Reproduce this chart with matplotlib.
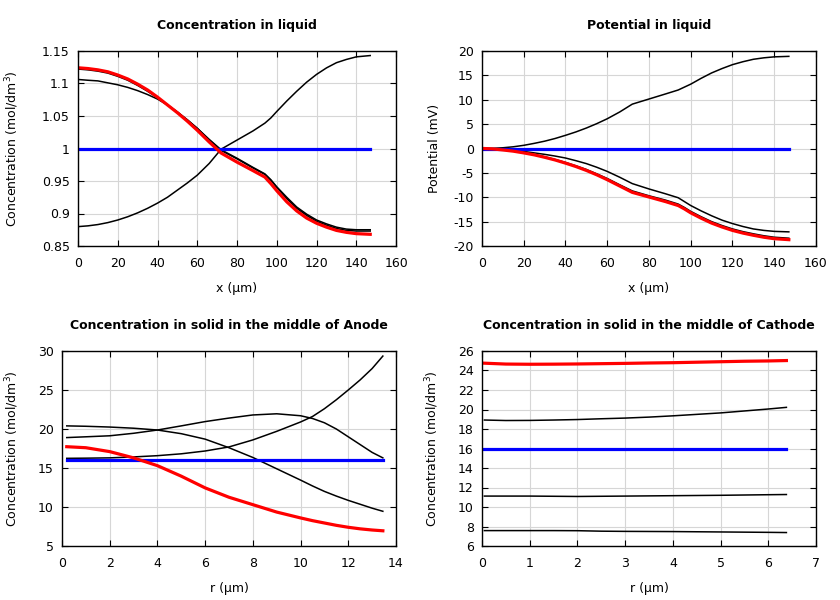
import numpy as np
import matplotlib.pyplot as plt
from matplotlib.ticker import MultipleLocator, FormatStrFormatter

plt.rcParams['font.family'] = ['DejaVu Sans']
plt.rcParams['font.size'] = 9
plt.rcParams['axes.unicode_minus'] = False

# ---- liquid phase, x in um
x_liq = [0.8, 5, 10, 15, 20, 25, 30, 35, 40, 45, 50, 55, 60, 66, 72, 80, 88, 94, 97, 100,
         105, 110, 115, 120, 125, 130, 135, 140, 147]
cl_t0 = [1.0, 1.0, 1.0, 1.0, 1.0, 1.0, 1.0, 1.0, 1.0, 1.0, 1.0, 1.0, 1.0, 1.0, 1.0, 1.0,
         1.0, 1.0, 1.0, 1.0, 1.0, 1.0, 1.0, 1.0, 1.0, 1.0, 1.0, 1.0, 1.0]
cl_t1 = [0.880, 0.881, 0.883, 0.886, 0.890, 0.895, 0.901, 0.908, 0.916, 0.925, 0.936, 0.947,
         0.959, 0.977, 0.999, 1.013, 1.027, 1.039, 1.047, 1.057, 1.073, 1.088, 1.102, 1.114,
         1.124, 1.132, 1.137, 1.141, 1.143]
cl_t2 = [1.122, 1.121, 1.119, 1.116, 1.111, 1.105, 1.097, 1.088, 1.078, 1.067, 1.056, 1.044,
         1.031, 1.014, 0.998, 0.985, 0.971, 0.961, 0.952, 0.941, 0.925, 0.910, 0.899, 0.890,
         0.884, 0.879, 0.876, 0.875, 0.875]
cl_t3 = [1.106, 1.105, 1.104, 1.101, 1.098, 1.094, 1.089, 1.083, 1.076, 1.067, 1.056, 1.044,
         1.031, 1.013, 0.997, 0.984, 0.970, 0.960, 0.951, 0.940, 0.923, 0.908, 0.897, 0.888,
         0.882, 0.877, 0.874, 0.873, 0.873]
cl_end = [1.124, 1.123, 1.121, 1.118, 1.113, 1.107, 1.099, 1.090, 1.079, 1.067, 1.055, 1.042,
          1.028, 1.010, 0.993, 0.979, 0.966, 0.956, 0.946, 0.935, 0.918, 0.904, 0.893, 0.885,
          0.879, 0.874, 0.871, 0.869, 0.868]

phi_t0 = [0, 0, 0, 0, 0, 0, 0, 0, 0, 0, 0, 0, 0, 0, 0, 0, 0, 0, 0, 0, 0, 0, 0, 0, 0, 0, 0, 0, 0]
phi_t1 = [0.0, 0.03, 0.15, 0.35, 0.65, 1.05, 1.5, 2.05, 2.7, 3.4, 4.2, 5.1, 6.1, 7.5, 9.1,
          10.15, 11.2, 12.0, 12.6, 13.2, 14.4, 15.5, 16.4, 17.2, 17.8, 18.3, 18.6, 18.8, 18.9]
phi_t2 = [0.0, -0.07, -0.28, -0.52, -0.85, -1.25, -1.7, -2.25, -2.85, -3.55, -4.3, -5.2, -6.15,
          -7.45, -8.7, -9.7, -10.6, -11.4, -12.1, -12.9, -14.0, -15.0, -15.8, -16.5, -17.05,
          -17.5, -17.9, -18.2, -18.4]
phi_t3 = [0.0, -0.04, -0.15, -0.35, -0.6, -0.9, -1.2, -1.55, -1.95, -2.5, -3.1, -3.85, -4.7,
          -5.9, -7.2, -8.3, -9.3, -10.1, -10.9, -11.7, -12.8, -13.8, -14.7, -15.4, -16.0, -16.5,
          -16.8, -17.0, -17.1]
phi_end = [0.0, -0.08, -0.3, -0.55, -0.9, -1.3, -1.8, -2.35, -3.0, -3.7, -4.5, -5.4, -6.4,
           -7.7, -9.0, -9.95, -10.9, -11.7, -12.4, -13.2, -14.3, -15.3, -16.1, -16.8, -17.35,
           -17.8, -18.2, -18.5, -18.7]

# ---- solid, middle of anode, r in um
r_an = [0.2, 1, 2, 3, 4, 5, 6, 7, 8, 9, 10, 10.5, 11, 11.5, 12, 12.5, 13, 13.45]
ca_t0 = [16.0, 16.0, 16.0, 16.0, 16.0, 16.0, 16.0, 16.0, 16.0, 16.0, 16.0, 16.0, 16.0, 16.0,
         16.0, 16.0, 16.0, 16.0]
ca_t1 = [16.24, 16.26, 16.3, 16.42, 16.58, 16.82, 17.18, 17.7, 18.6, 19.7, 20.9, 21.6, 22.6,
         23.75, 25.0, 26.3, 27.75, 29.35]
ca_t2 = [18.9, 19.0, 19.13, 19.45, 19.87, 20.4, 20.95, 21.4, 21.8, 21.95, 21.7, 21.35, 20.8,
         20.0, 19.0, 18.0, 17.0, 16.3]
ca_t3 = [20.4, 20.35, 20.25, 20.1, 19.87, 19.4, 18.7, 17.6, 16.35, 14.9, 13.45, 12.7, 12.0,
         11.4, 10.85, 10.35, 9.85, 9.45]
ca_end = [17.73, 17.6, 17.1, 16.3, 15.3, 13.95, 12.45, 11.25, 10.3, 9.35, 8.6, 8.25, 7.95, 7.65,
          7.4, 7.2, 7.05, 6.95]

# ---- solid, middle of cathode, r in um
r_ca = [0.05, 0.5, 1, 1.5, 2, 2.5, 3, 3.5, 4, 4.5, 5, 5.5, 6, 6.38]
cc_t0 = [15.95, 15.95, 15.95, 15.95, 15.95, 15.95, 15.95, 15.95, 15.95, 15.95, 15.95, 15.95,
         15.95, 15.95]
cc_t1 = [18.92, 18.87, 18.88, 18.92, 18.97, 19.05, 19.12, 19.22, 19.35, 19.5, 19.65, 19.85, 20.05,
         20.22]
cc_t2 = [11.12, 11.12, 11.12, 11.1, 11.08, 11.1, 11.12, 11.14, 11.16, 11.18, 11.2, 11.23, 11.26, 11.28]
cc_t3 = [7.58, 7.58, 7.58, 7.58, 7.57, 7.52, 7.5, 7.49, 7.48, 7.46, 7.44, 7.42, 7.4, 7.38]
cc_end = [24.75, 24.66, 24.64, 24.65, 24.67, 24.7, 24.73, 24.77, 24.8, 24.85, 24.9, 24.95, 24.98,
          25.02]

conc_label = 'Concentration (mol/dm$^3$)'


def draw(ax, x, mids, first, last, title, xlab, ylab, xlim, xstep, ylim, ystep):
    for y in mids:
        ax.plot(x, y, color='black', lw=1.1)
    ax.plot(x, first, color='#0000ff', lw=2.3)
    ax.plot(x, last, color='#ff0000', lw=2.3)
    ax.set_xlim(xlim)
    ax.set_ylim(ylim)
    ax.xaxis.set_major_locator(MultipleLocator(xstep))
    ax.yaxis.set_major_locator(MultipleLocator(ystep))
    ax.yaxis.set_major_formatter(FormatStrFormatter('%g'))
    ax.grid(True, color='#d6d6d6', lw=0.8)
    ax.set_axisbelow(True)
    ax.tick_params(direction='in', top=True, right=True, length=4, width=0.8)
    ax.tick_params(axis='x', pad=8)
    ax.tick_params(axis='y', pad=6)
    for s in ax.spines.values():
        s.set_linewidth(1.0)
    ax.set_title(title, fontweight='bold', fontsize=9, pad=16)
    ax.set_xlabel(xlab)
    ax.set_ylabel(ylab)
    ax.xaxis.set_label_coords(0.5, -0.185)


fig = plt.figure(figsize=(8.4, 6), dpi=100)
ax1 = fig.add_axes([0.0929, 0.59, 0.3786, 0.325])
ax2 = fig.add_axes([0.5738, 0.59, 0.3976, 0.325])
ax3 = fig.add_axes([0.0738, 0.09, 0.3976, 0.325])
ax4 = fig.add_axes([0.5738, 0.09, 0.3976, 0.325])

draw(ax1, x_liq, [cl_t1, cl_t2, cl_t3], cl_t0, cl_end, 'Concentration in liquid',
     'x (µm)', conc_label, (0, 160), 20, (0.85, 1.15), 0.05)
ax1.yaxis.set_label_coords(-0.179, 0.5)

draw(ax2, x_liq, [phi_t1, phi_t2, phi_t3], phi_t0, phi_end, 'Potential in liquid',
     'x (µm)', 'Potential (mV)', (0, 160), 20, (-20, 20), 5)
ax2.yaxis.set_label_coords(-0.123, 0.5)

draw(ax3, r_an, [ca_t1, ca_t2, ca_t3], ca_t0, ca_end, 'Concentration in solid in the middle of Anode',
     'r (µm)', conc_label, (0, 14), 2, (5, 30), 5)
ax3.yaxis.set_label_coords(-0.123, 0.5)

draw(ax4, r_ca, [cc_t1, cc_t2, cc_t3], cc_t0, cc_end, 'Concentration in solid in the middle of Cathode',
     'r (µm)', conc_label, (0, 7), 1, (6, 26), 2)
ax4.yaxis.set_label_coords(-0.123, 0.5)

fig.savefig('out.png', dpi=100)
